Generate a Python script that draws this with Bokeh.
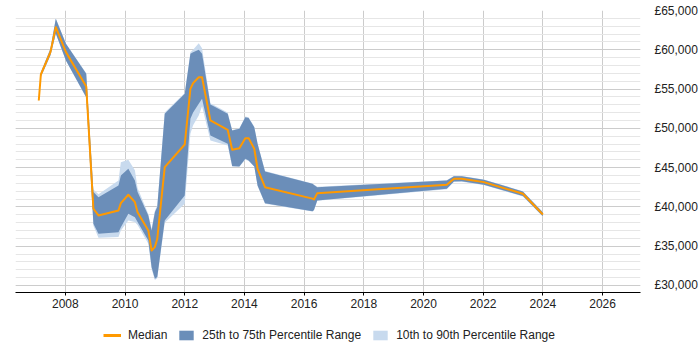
from bokeh.plotting import figure
from bokeh.layouts import column
from bokeh.models import FixedTicker, Legend, LegendItem, ColumnDataSource, Range1d
from bokeh.embed import file_html
from bokeh.resources import INLINE

# Salary percentiles over time (decimal years)
years = [2007.11, 2007.18, 2007.50, 2007.68, 2008.02, 2008.70, 2008.94, 2009.11,
         2009.78, 2009.86, 2010.11, 2010.33, 2010.42, 2010.78, 2010.89, 2011.00,
         2011.08, 2011.33, 2012.00, 2012.19, 2012.28, 2012.47, 2012.58, 2012.86,
         2013.44, 2013.59, 2013.83, 2014.03, 2014.14, 2014.33, 2014.44, 2014.69,
         2016.28, 2016.33, 2016.44, 2020.78, 2021.02, 2021.28, 2022.02, 2023.33,
         2024.00]

median = [53545, 56854, 59700, 62880, 59700, 55330, 39760, 38910,
          39545, 40475, 41545, 40600, 39330, 37000, 34455, 34880,
          35940, 45060, 47945, 55030, 55750, 56510, 56510, 51000,
          49815, 47270, 47470, 48750, 48750, 47400, 44850, 42510,
          41050, 40950, 41750, 42815, 43580, 43580, 43150, 41670,
          39035]

p25 = [53400, 56600, 59300, 62070, 58640, 53970, 37850, 36580,
       36780, 37420, 39130, 38690, 38060, 35730, 32330, 30850,
       31060, 38270, 41450, 51210, 52000, 53130, 53760, 49090,
       48030, 45190, 45150, 46125, 45900, 45150, 42730, 40475,
       39450, 39600, 40820, 42300, 43235, 43250, 42815, 41370,
       38800]

p75 = [53700, 57100, 60100, 63940, 60760, 56940, 41880, 41240,
       42730, 44000, 44850, 43365, 41880, 38910, 37000, 39330,
       39970, 51850, 54400, 59490, 59700, 60000, 59490, 53030,
       51850, 49730, 49940, 51420, 51300, 50150, 48030, 44510,
       42940, 42800, 42510, 43365, 43910, 43900, 43450, 41960,
       39300]

p10 = [53300, 56500, 59200, 62000, 58600, 53900, 37600, 36070,
       36150, 37000, 38270, 38060, 37700, 35310, 32100, 30700,
       30900, 37990, 40400, 49300, 50400, 51640, 52800, 48450,
       47800, 45100, 45100, 46000, 45850, 45100, 42650, 40400,
       39400, 39550, 40780, 42250, 43200, 43200, 42780, 41330,
       38750]

p90 = [53800, 57200, 60200, 64000, 60800, 57000, 42200, 41600,
       43365, 45690, 46000, 44650, 42400, 39100, 37200, 39500,
       40200, 52000, 54500, 59700, 60000, 60830, 60200, 53200,
       52000, 49800, 50000, 51500, 51400, 50200, 48100, 44560,
       42980, 42850, 42560, 43400, 43950, 43940, 43490, 42000,
       39340]

year_ticks = [2008, 2010, 2012, 2014, 2016, 2018, 2020, 2022, 2024, 2026]
salary_ticks = [30000, 35000, 40000, 45000, 50000, 55000, 60000, 65000]
salary_labels = ["£30,000", "£35,000", "£40,000", "£45,000",
                 "£50,000", "£55,000", "£60,000", "£65,000"]
series_names = ["Median", "25th to 75th Percentile Range",
                "10th to 90th Percentile Range"]

MEDIAN_COLOR = "#ff9900"
IQR_COLOR = "#6b8eb9"
DECILE_COLOR = "#c8daee"

src = ColumnDataSource(dict(x=years, med=median, p10=p10, p25=p25,
                            p75=p75, p90=p90))

p = figure(width=700, height=314,
           x_range=Range1d(2006.33, 2027.27), y_range=Range1d(29100, 65000),
           y_axis_location="right", output_backend="svg",
           toolbar_location=None, min_border_left=15, min_border_top=10,
           min_border_right=57, min_border_bottom=22)
p.outline_line_color = None
p.background_fill_color = "white"

p.varea(x="x", y1="p10", y2="p90", source=src,
        fill_color=DECILE_COLOR, fill_alpha=1.0)
p.varea(x="x", y1="p25", y2="p75", source=src,
        fill_color=IQR_COLOR, fill_alpha=1.0)
p.line(x="x", y="med", source=src, line_color=MEDIAN_COLOR,
       line_width=2, line_join="round")

# x axis
xa = p.xaxis[0]
xa.ticker = FixedTicker(ticks=year_ticks)
xa.major_label_overrides = {y: str(y) for y in year_ticks}
xa.axis_line_color = "black"
xa.axis_line_width = 1.2
xa.major_tick_in = 0
xa.major_tick_out = 3
xa.major_tick_line_color = "black"
xa.minor_tick_line_color = None
xa.major_label_standoff = 3
xa.major_label_text_font = "Liberation Sans"
xa.major_label_text_font_size = "12px"
xa.major_label_text_color = "#222222"

# y axis on the right
ya = p.yaxis[0]
minor = list(range(29000, 66000, 1000))
ya.ticker = FixedTicker(ticks=salary_ticks, minor_ticks=minor)
ya.major_label_overrides = dict(zip(salary_ticks, salary_labels))
ya.axis_line_color = None
ya.major_tick_line_color = None
ya.minor_tick_line_color = None
ya.major_label_standoff = 8
ya.major_label_text_font = "Liberation Sans"
ya.major_label_text_font_size = "12px"
ya.major_label_text_color = "#222222"

p.xgrid.ticker = FixedTicker(ticks=year_ticks)
p.xgrid.grid_line_color = "#cccccc"
p.ygrid.ticker = FixedTicker(ticks=salary_ticks, minor_ticks=minor)
p.ygrid.grid_line_color = "#cccccc"
p.ygrid.minor_grid_line_color = "#e6e6e6"

# legend strip underneath the chart; its renderers sit outside the visible range
lf = figure(width=700, height=36, x_range=Range1d(0, 1), y_range=Range1d(0, 1),
            x_axis_type=None, y_axis_type=None, output_backend="svg",
            toolbar_location=None, min_border=0)
lf.outline_line_color = None
lf.grid.visible = False
proxy = ColumnDataSource(dict(x=[-5], y=[-5], y1=[-5], y2=[-5]))
l_med = lf.line(x="x", y="y", source=proxy, line_color=MEDIAN_COLOR, line_width=3)
l_iqr = lf.varea(x="x", y1="y1", y2="y2", source=proxy, fill_color=IQR_COLOR)
l_dec = lf.varea(x="x", y1="y1", y2="y2", source=proxy, fill_color=DECILE_COLOR)

legend = Legend(items=[
    LegendItem(label=series_names[0], renderers=[l_med]),
    LegendItem(label=series_names[1], renderers=[l_iqr]),
    LegendItem(label=series_names[2], renderers=[l_dec]),
], orientation="horizontal", location=(88, 8))
legend.border_line_color = None
legend.background_fill_alpha = 0
legend.label_text_font = "Liberation Sans"
legend.label_text_font_size = "12px"
legend.label_text_color = "#222222"
legend.glyph_width = 18
legend.glyph_height = 12
legend.label_height = 14
legend.label_standoff = 7
legend.spacing = 10
legend.padding = 0
legend.margin = 0
lf.add_layout(legend, "center")

layout = column(p, lf, spacing=0)
open("out.html", "w").write(file_html(layout, INLINE))
